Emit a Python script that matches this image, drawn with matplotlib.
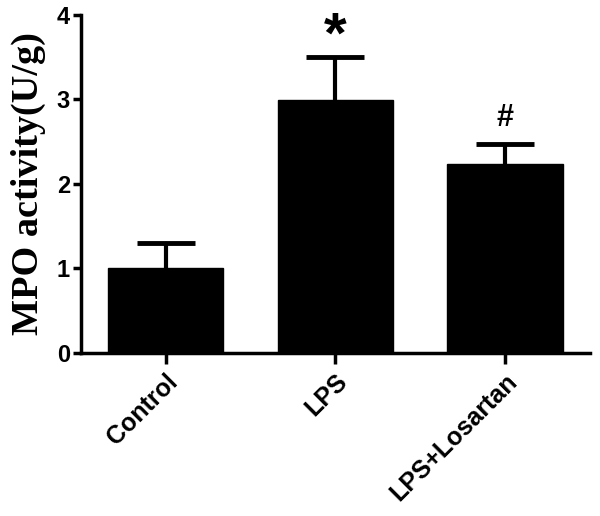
import matplotlib.pyplot as plt

# Data
groups = ['Control', 'LPS', 'LPS+Losartan']
mpo_mean = [1.0, 2.99, 2.24]
mpo_err = [0.30, 0.51, 0.23]
marks = ['', '*', '#']

fig = plt.figure(figsize=(6, 5.16), dpi=100)
ax = fig.add_axes([0.135, 0.316, 0.848, 0.655])

x = range(len(groups))
ax.bar(x, mpo_mean, width=0.68, color='black', edgecolor='black', zorder=2)
_, caps, _ = ax.errorbar(x, mpo_mean, yerr=[[0] * len(groups), mpo_err], fmt='none',
                         ecolor='black', elinewidth=3, capsize=21, capthick=3.5, zorder=1)
caps[0].set_visible(False)  # only the upper cap

# significance marks
for xi, m, e, s in zip(x, mpo_mean, mpo_err, marks):
    if s == '*':
        ax.text(xi, m + e + 0.23, s, ha='center', va='center', fontsize=42,
                fontweight='bold', family='Liberation Sans')
    elif s == '#':
        ax.text(xi, m + e + 0.31, s, ha='center', va='center', fontsize=22,
                fontweight='bold', family='Liberation Sans')

ax.set_xlim(-0.5, 2.5)
ax.set_ylim(0, 4)
ax.set_yticks([0, 1, 2, 3, 4])
ax.set_xticks(list(x))
ax.set_xticklabels(groups, rotation=45, ha='right', rotation_mode='anchor',
                   fontsize=18, fontweight='bold', family='Liberation Sans')
for lab in ax.get_yticklabels():
    lab.set_fontsize(17)
    lab.set_fontweight('bold')
    lab.set_family('Liberation Sans')

ax.set_ylabel('MPO activity(U/g)', fontsize=27.5, fontweight='bold',
              family='Liberation Serif', labelpad=8)

for side in ['top', 'right']:
    ax.spines[side].set_visible(False)
for side in ['left', 'bottom']:
    ax.spines[side].set_linewidth(2.5)
ax.tick_params(axis='y', direction='out', length=6, width=2.5, pad=2)
ax.tick_params(axis='x', direction='out', length=8, width=2.5, pad=4)

plt.savefig('out.png', dpi=100)
